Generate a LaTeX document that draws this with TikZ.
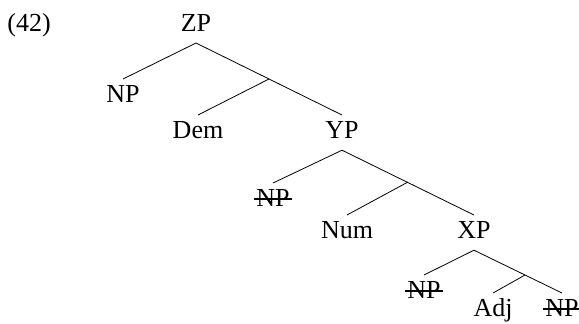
\documentclass[tikz,border=0pt]{standalone}
\usepackage{fontspec}
\setmainfont{Liberation Serif}
\usepackage{tikz}
\tikzset{cat/.style={inner xsep=1pt, inner ysep=3pt, text height=8.7pt, text depth=2.5pt, font=\fontsize{13}{15}\selectfont}}
\tikzset{strike/.style={line width=1pt}}

\begin{document}
\begin{tikzpicture}[x=.5pt, y=-.5pt]
    \useasboundingbox (0, 0) rectangle (579, 323);
    \node[anchor=base west, inner sep=0, font=\fontsize{13}{15}\selectfont] (exnum) at (7, 31) {(42)};
    % top level
    \node[cat, anchor=south] (zp) at (196, 43) {ZP};
    \node[cat, anchor=north] (np1) at (123, 79) {NP};
    \coordinate (zbar) at (269, 79);
    \node[cat, anchor=north] (dem) at (198, 115) {Dem};
    \node[cat, anchor=north] (yp) at (342, 115) {YP};
    \draw (zp.south)--(np1.north);
    \draw (zp.south)--(yp.north);
    \draw (zbar)--(dem.north);
    % middle level
    \node[cat, anchor=north] (np2) at (273, 183) {NP};
    \coordinate (ybar) at (408, 182);
    \node[cat, anchor=north] (num) at (347, 215) {Num};
    \node[cat, anchor=north] (xp) at (474, 215) {XP};
    \draw (yp.south)--(np2.north);
    \draw (yp.south)--(xp.north);
    \draw (ybar)--(num.north);
    % bottom level
    \node[cat, anchor=north] (np3) at (424, 275) {NP};
    \coordinate (xbar) at (525, 275);
    \node[cat, anchor=north] (adj) at (493, 293) {Adj};
    \node[cat, anchor=north] (np4) at (562, 293) {NP};
    \draw (xp.south)--(np3.north);
    \draw (xp.south)--(np4.north);
    \draw (xbar)--(adj.north);
    % deleted copies
    \draw[strike]([yshift=4pt]np2.base west)--([yshift=4pt]np2.base east);
    \draw[strike]([yshift=4pt]np3.base west)--([yshift=4pt]np3.base east);
    \draw[strike]([yshift=4pt]np4.base west)--([yshift=4pt]np4.base east);
\end{tikzpicture}
\end{document}
